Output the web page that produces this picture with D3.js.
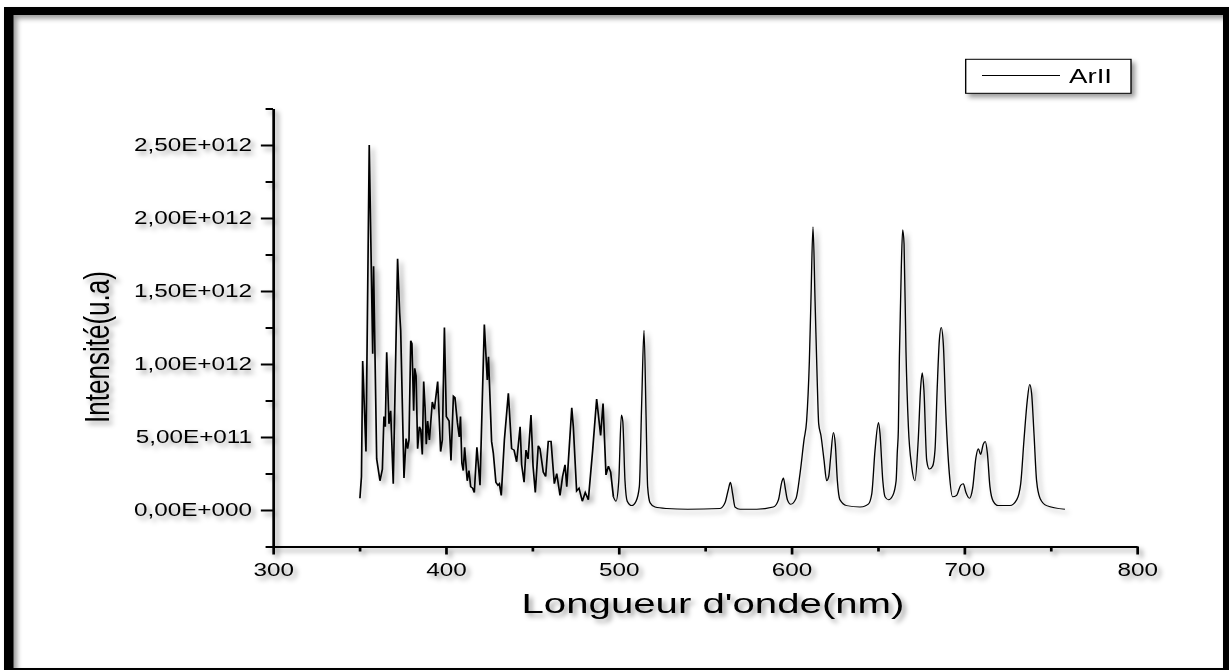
<!DOCTYPE html>
<html>
<head>
<meta charset="utf-8">
<script src="https://cdn.jsdelivr.net/npm/d3@7"></script>
<style>
  html, body { margin: 0; padding: 0; background: #fff; }
  svg { display: block; }
  text { font-family: "Liberation Sans", Arial, sans-serif; fill: #000; }
</style>
</head>
<body>
<div id="chart"></div>
<script>
// data: ArII spectrum, intensity in units of 1e12
const waveNm = [
  350.3, 351.2, 351.9, 353.8, 355.7, 357.7, 358.2, 360.0, 361.9, 363.3,
  364.2, 365.0, 365.8, 367.1, 368.1, 369.6, 372.1, 373.3, 373.9, 375.8,
  377.0, 377.9, 378.7, 379.7, 380.4, 381.4, 382.0, 382.8, 383.7, 384.7,
  385.5, 386.4, 387.2, 388.0, 388.7, 389.5, 390.5, 392.2, 393.4, 395.3,
  397.0, 398.0, 399.2, 400.3, 401.9, 403.0, 404.4, 405.3, 406.7, 407.8,
  408.5, 409.3, 410.1, 410.9, 412.4, 413.4, 414.4, 415.5, 416.5, 418.0,
  419.8, 422.3, 424.0, 424.7, 426.5, 427.5, 429.0, 430.2, 431.0, 432.1,
  433.9, 436.2, 438.1, 439.5, 441.0, 443.0, 443.9, 445.3, 446.4, 447.6,
  449.3, 450.5, 451.8, 453.5, 454.5, 456.4, 457.8, 459.3, 460.9, 462.8,
  464.2, 466.1, 467.6, 469.0, 470.0, 472.9, 473.8, 475.7, 477.1, 479.0,
  480.7, 482.5, 485.0, 487.3, 489.6, 491.0, 492.7, 494.1, 495.4, 497.0,
  498.5, 500.1, 501.6, 502.4, 503.7, 505.0, 507.6, 510.1, 512.0, 513.4,
  514.7, 515.9, 516.8, 518.2, 521.1, 527.8, 540.0, 558.7, 561.6, 563.5,
  564.7, 566.0, 567.4, 570.3, 580.0, 589.5, 592.5, 594.4, 595.4, 596.3,
  597.7, 599.6, 602.7, 605.0, 607.3, 608.8, 610.4, 611.3, 612.5, 613.7,
  615.0, 615.8, 617.1, 618.9, 620.4, 621.6, 622.7, 624.3, 625.4, 626.6,
  628.1, 632.0, 639.7, 644.5, 646.5, 648.4, 650.4, 651.3, 652.9, 654.2,
  656.2, 658.7, 660.6, 661.3, 661.9, 662.5, 663.6, 664.4, 665.2, 666.3,
  667.7, 669.6, 671.5, 673.4, 674.8, 675.7, 676.7, 678.3, 679.8, 681.7,
  683.1, 684.4, 685.6, 686.7, 687.9, 689.4, 691.4, 693.3, 695.6, 698.0,
  699.5, 701.0, 703.0, 704.9, 706.8, 708.2, 709.5, 711.0, 712.2, 713.4,
  714.9, 716.8, 719.7, 726.5, 730.4, 732.7, 734.6, 736.5, 737.9, 739.0,
  740.4, 741.9, 743.9, 747.7, 758.3
];
const intensity = [
  0.08, 0.23, 1.02, 0.40, 2.50, 1.07, 1.67, 0.35, 0.20, 0.28,
  0.64, 0.57, 1.08, 0.59, 0.68, 0.18, 1.72, 1.35, 1.23, 0.22,
  0.49, 0.42, 0.48, 1.16, 1.14, 0.68, 0.97, 0.92, 0.42, 0.57,
  0.55, 0.38, 0.88, 0.70, 0.45, 0.61, 0.48, 0.74, 0.69, 0.88,
  0.40, 0.48, 1.25, 0.64, 0.61, 0.34, 0.78, 0.77, 0.60, 0.50,
  0.64, 0.32, 0.27, 0.43, 0.20, 0.27, 0.16, 0.15, 0.12, 0.43,
  0.17, 1.27, 0.89, 1.05, 0.47, 0.39, 0.19, 0.17, 0.18, 0.10,
  0.48, 0.80, 0.42, 0.41, 0.33, 0.57, 0.31, 0.19, 0.41, 0.35,
  0.65, 0.30, 0.12, 0.44, 0.42, 0.26, 0.23, 0.47, 0.47, 0.18,
  0.25, 0.10, 0.23, 0.31, 0.16, 0.70, 0.57, 0.13, 0.15, 0.06,
  0.12, 0.07, 0.41, 0.76, 0.51, 0.73, 0.24, 0.30, 0.26, 0.09,
  0.06, 0.20, 0.65, 0.61, 0.20, 0.06, 0.03, 0.06, 0.16, 0.75,
  1.23, 0.64, 0.16, 0.05, 0.02, 0.01, 0.005, 0.01, 0.05, 0.14,
  0.19, 0.11, 0.02, 0.005, 0.005, 0.02, 0.07, 0.19, 0.22, 0.16,
  0.07, 0.04, 0.08, 0.25, 0.48, 0.61, 1.02, 1.43, 1.94, 1.43,
  0.86, 0.59, 0.51, 0.34, 0.20, 0.23, 0.36, 0.53, 0.45, 0.20,
  0.07, 0.03, 0.02, 0.04, 0.11, 0.41, 0.60, 0.52, 0.20, 0.09,
  0.07, 0.10, 0.20, 0.40, 0.55, 1.05, 1.66, 1.92, 1.82, 1.09,
  0.57, 0.30, 0.20, 0.48, 0.84, 0.94, 0.82, 0.34, 0.28, 0.30,
  0.41, 0.84, 1.16, 1.25, 1.14, 0.66, 0.25, 0.09, 0.10, 0.17,
  0.18, 0.12, 0.08, 0.15, 0.36, 0.42, 0.38, 0.45, 0.47, 0.39,
  0.16, 0.06, 0.03, 0.03, 0.07, 0.18, 0.48, 0.75, 0.86, 0.80,
  0.52, 0.20, 0.08, 0.03, 0.005
];
const seriesName = "ArII";

const xMajor = [300, 400, 500, 600, 700, 800];
const xMinor = [350, 450, 550, 650, 750];
const yMajor = [0, 0.5, 1, 1.5, 2, 2.5];
const yLabels = ["0,00E+000", "5,00E+011", "1,00E+012", "1,50E+012", "2,00E+012", "2,50E+012"];
const yMinor = [-0.25, 0.25, 0.75, 1.25, 1.75, 2.25, 2.75];

// the picture is stretched sideways, so draw in a narrower box and stretch it
const S = 1.35;
const width = 1229, height = 670;
const W = width / S;

const svg = d3.select("#chart")
    .append("svg")
    .attr("width", width)
    .attr("height", height)
    .attr("viewBox", `0 0 ${W} ${height}`)
    .attr("preserveAspectRatio", "none");

// soft grey shadow under everything
svg.append("defs")
    .append("filter")
    .attr("id", "shadow")
    .attr("filterUnits", "userSpaceOnUse")
    .attr("x", 0).attr("y", 0)
    .attr("width", W).attr("height", height)
    .append("feDropShadow")
    .attr("dx", 2.6)
    .attr("dy", 3.5)
    .attr("stdDeviation", "1.8 2.4")
    .attr("flood-color", "#000")
    .attr("flood-opacity", 0.4);

svg.append("rect")
    .attr("width", W)
    .attr("height", height)
    .attr("fill", "#fff");

const g = svg.append("g").attr("filter", "url(#shadow)");

// frame
g.append("path")
    .attr("fill", "#000")
    .attr("d", `M${4 / S},7 H${W} V${height} H${4 / S} Z
                M${13.5 / S},15 V668 H${1223 / S} V15 Z`)
    .attr("fill-rule", "evenodd");

const x = d3.scaleLinear()
    .domain([300, 800])
    .range([273 / S, 1137 / S]);

const y = d3.scaleLinear()
    .domain([-0.25, 2.75])
    .range([546.5, 108.5]);

// axes
g.append("g")
    .attr("transform", `translate(0,${y(-0.25)})`)
    .call(d3.axisBottom(x).tickValues(xMajor).tickSize(8).tickSizeOuter(0).tickPadding(8.5));
g.append("g")
    .attr("transform", `translate(0,${y(-0.25)})`)
    .call(d3.axisBottom(x).tickValues(xMinor).tickSize(5).tickFormat(""))
    .call(a => a.select(".domain").remove());

g.append("g")
    .attr("transform", `translate(${x(300)},0)`)
    .call(d3.axisLeft(y).tickValues(yMajor).tickSize(9).tickSizeOuter(0).tickPadding(6.5)
        .tickFormat((d, i) => yLabels[i]));
g.append("g")
    .attr("transform", `translate(${x(300)},0)`)
    .call(d3.axisLeft(y).tickValues(yMinor).tickSize(5.5).tickFormat(""))
    .call(a => a.select(".domain").remove());

g.selectAll(".domain, .tick line")
    .attr("stroke", "#000")
    .attr("stroke-width", 2);
g.selectAll(".tick text")
    .attr("font-size", 18)
    .style("font-family", "'Liberation Sans', Arial, sans-serif");

// axis titles
g.append("text")
    .attr("x", 713 / S)
    .attr("y", 613)
    .attr("text-anchor", "middle")
    .attr("font-size", 27)
    .attr("textLength", 383 / S)
    .attr("lengthAdjust", "spacingAndGlyphs")
    .text("Longueur d'onde(nm)");

g.append("text")
    .attr("transform", `translate(${109 / S},347) rotate(-90)`)
    .attr("text-anchor", "middle")
    .attr("font-size", 26)
    .attr("textLength", 152)
    .attr("lengthAdjust", "spacingAndGlyphs")
    .text("Intensité(u.a)");

// spectrum: sharp sampling on the blue side, smooth peaks on the red side
const points = waveNm.map((w, i) => [w, intensity[i]]);
const jagged = points.filter(p => p[0] <= 497);
const smooth = points.filter(p => p[0] >= 497);

g.append("path")
    .datum(jagged)
    .attr("fill", "none")
    .attr("stroke", "#000")
    .attr("stroke-width", 1.25)
    .attr("stroke-linejoin", "miter")
    .attr("d", d3.line().x(d => x(d[0])).y(d => y(d[1])));

g.append("path")
    .datum(smooth)
    .attr("fill", "none")
    .attr("stroke", "#000")
    .attr("stroke-width", 1)
    .attr("d", d3.line().x(d => x(d[0])).y(d => y(d[1])).curve(d3.curveMonotoneX));

// legend
const legend = g.append("g");
legend.append("rect")
    .attr("x", 965.7 / S)
    .attr("y", 59.3)
    .attr("width", (1131 - 965.7) / S)
    .attr("height", 34)
    .attr("fill", "#fff")
    .attr("stroke", "#000")
    .attr("stroke-width", 1);
legend.append("line")
    .attr("x1", 982 / S)
    .attr("x2", 1060 / S)
    .attr("y1", 75.5)
    .attr("y2", 75.5)
    .attr("stroke", "#000")
    .attr("stroke-width", 1);
legend.append("text")
    .attr("x", 1069 / S)
    .attr("y", 83.3)
    .attr("font-size", 20.5)
    .text(seriesName);
</script>
</body>
</html>
